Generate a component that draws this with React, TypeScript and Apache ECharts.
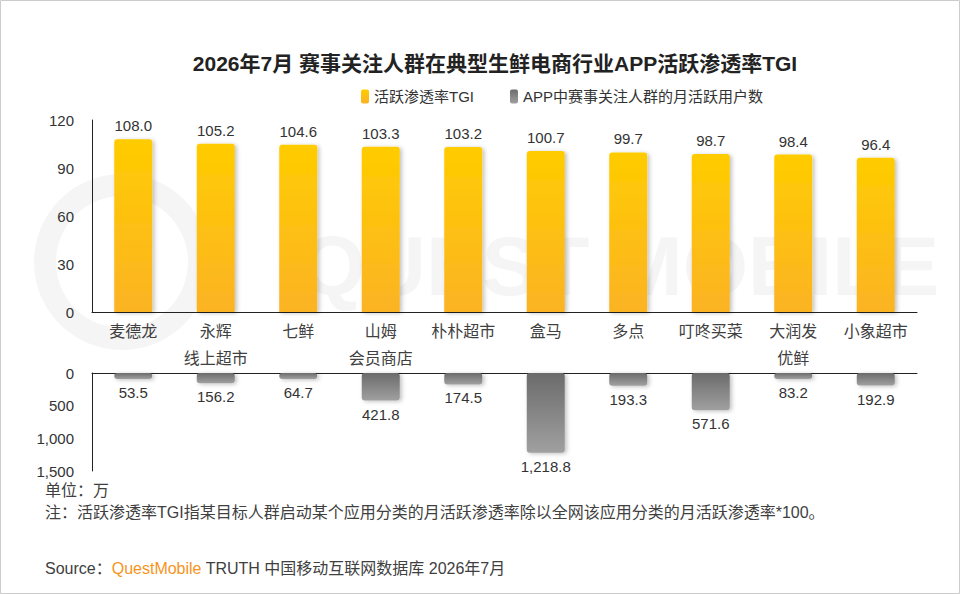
import React, { useEffect, useRef } from "react";
import * as echarts from "echarts";

const categories = [
  "麦德龙",
  "永辉\n线上超市",
  "七鲜",
  "山姆\n会员商店",
  "朴朴超市",
  "盒马",
  "多点",
  "叮咚买菜",
  "大润发\n优鲜",
  "小象超市",
];
const tgiValues = [108.0, 105.2, 104.6, 103.3, 103.2, 100.7, 99.7, 98.7, 98.4, 96.4];
const mauValues = [53.5, 156.2, 64.7, 421.8, 174.5, 1218.8, 193.3, 571.6, 83.2, 192.9];
const tgiTicks = { min: 0, max: 120, interval: 30 };
const mauTicks = { min: 0, max: 1500, interval: 500 };

const titleText = "2026年7月 赛事关注人群在典型生鲜电商行业APP活跃渗透率TGI";
const seriesNames = ["活跃渗透率TGI", "APP中赛事关注人群的月活跃用户数"];
const unitText = "单位：万";
const noteText = "注：活跃渗透率TGI指某目标人群启动某个应用分类的月活跃渗透率除以全网该应用分类的月活跃渗透率*100。";

const FONT = "'Liberation Sans', 'Noto Sans CJK SC', sans-serif";

const fmtComma = (v: number, digits: number) =>
  v.toLocaleString("en-US", { minimumFractionDigits: digits, maximumFractionDigits: digits });

export default function App() {
  const ref = useRef<HTMLDivElement>(null);
  useEffect(() => {
    if (!ref.current) return;
    const chart = echarts.init(ref.current, undefined, { renderer: "svg" });
    const yellow = new echarts.graphic.LinearGradient(0, 0, 0, 1, [
      { offset: 0, color: "#FFCC00" },
      { offset: 1, color: "#FBB324" },
    ]);
    const gray = new echarts.graphic.LinearGradient(0, 0, 0, 1, [
      { offset: 0, color: "#6B6B6B" },
      { offset: 1, color: "#A0A0A0" },
    ]);
    const axisLine = { show: true, lineStyle: { color: "#222", width: 1 } };
    chart.setOption({
      animation: false,
      backgroundColor: "#fff",
      textStyle: { fontFamily: FONT },
      title: {
        text: titleText,
        left: 490,
        top: 48,
        textAlign: "center",
        textStyle: { fontSize: 21, fontWeight: "bold", color: "#222", fontFamily: FONT },
      },
      legend: {
        left: 356,
        top: 84,
        itemWidth: 8,
        itemHeight: 14,
        itemGap: 36,
        icon: "roundRect",
        textStyle: { fontSize: 15, color: "#333", fontFamily: FONT },
        data: seriesNames,
      },
      grid: [
        { left: 92, right: 43, top: 120, height: 192 },
        { left: 92, right: 43, top: 373, height: 98 },
      ],
      xAxis: [
        {
          type: "category",
          gridIndex: 0,
          data: categories,
          axisLine,
          axisTick: { show: false },
          axisLabel: {
            fontSize: 16,
            color: "#404040",
            lineHeight: 27,
            margin: 6,
            interval: 0,
            fontFamily: FONT,
          },
        },
        {
          type: "category",
          gridIndex: 1,
          position: "top",
          data: categories,
          axisLine,
          axisTick: { show: false },
          axisLabel: { show: false },
        },
      ],
      yAxis: [
        {
          type: "value",
          gridIndex: 0,
          ...tgiTicks,
          axisLine,
          axisTick: { show: false },
          splitLine: { show: false },
          axisLabel: { fontSize: 15, color: "#333", margin: 18, fontFamily: FONT },
        },
        {
          type: "value",
          gridIndex: 1,
          inverse: true,
          ...mauTicks,
          axisLine,
          axisTick: { show: false },
          splitLine: { show: false },
          axisLabel: {
            fontSize: 15,
            color: "#333",
            margin: 18,
            fontFamily: FONT,
            formatter: (v: number) => fmtComma(v, 0),
          },
        },
      ],
      series: [
        {
          name: seriesNames[0],
          type: "bar",
          xAxisIndex: 0,
          yAxisIndex: 0,
          data: tgiValues,
          barWidth: 38,
          itemStyle: {
            color: yellow,
            borderRadius: [3, 3, 0, 0],
            shadowColor: "rgba(0,0,0,0.25)",
            shadowBlur: 4,
            shadowOffsetX: 2,
            shadowOffsetY: 1,
          },
          label: {
            show: true,
            position: "top",
            distance: 6,
            fontSize: 15,
            color: "#333",
            fontFamily: FONT,
            formatter: (p: any) => Number(p.value).toFixed(1),
          },
        },
        {
          name: seriesNames[1],
          type: "bar",
          xAxisIndex: 1,
          yAxisIndex: 1,
          data: mauValues,
          barWidth: 38,
          barMinHeight: 6,
          itemStyle: {
            color: gray,
            borderRadius: 3,
            shadowColor: "rgba(0,0,0,0.25)",
            shadowBlur: 4,
            shadowOffsetX: 2,
            shadowOffsetY: 1,
          },
          label: {
            show: true,
            position: "bottom",
            distance: 6,
            fontSize: 15,
            color: "#333",
            fontFamily: FONT,
            formatter: (p: any) => fmtComma(Number(p.value), 1),
          },
        },
      ],
      graphic: [
        {
          type: "group",
          silent: true,
          z: -10,
          children: [
            {
              type: "ring",
              shape: { cx: 122, cy: 262, r: 88, r0: 66 },
              style: { fill: "#F5F5F5" },
              z: -10,
            },
            {
              type: "text",
              x: 300,
              y: 266,
              style: {
                text: "QUEST MOBILE",
                fontSize: 84,
                fontWeight: "bold",
                fill: "#F5F5F5",
                fontFamily: "'Liberation Sans', sans-serif",
                verticalAlign: "middle",
              },
              z: -10,
            },
          ],
        },
        {
          type: "rect",
          silent: true,
          shape: { x: 0.5, y: 0.5, width: 959, height: 593 },
          style: { fill: "none", stroke: "#CCCCCC", lineWidth: 1 },
        },
        {
          type: "text",
          x: 45,
          y: 490,
          style: { text: unitText, fontSize: 16, fill: "#404040", fontFamily: FONT, verticalAlign: "middle" },
        },
        {
          type: "text",
          x: 45,
          y: 512,
          style: { text: noteText, fontSize: 16, fill: "#404040", fontFamily: FONT, verticalAlign: "middle" },
        },
        {
          type: "text",
          x: 45,
          y: 568,
          style: {
            text: "{a|Source：}{b|QuestMobile}{a| TRUTH 中国移动互联网数据库 2026年7月}",
            fontFamily: FONT,
            verticalAlign: "middle",
            rich: {
              a: { fontSize: 16, fill: "#404040", fontFamily: FONT },
              b: { fontSize: 16, fill: "#F7941D", fontFamily: FONT },
            },
          },
        },
      ],
    });
    return () => chart.dispose();
  }, []);
  return (
    <div
      ref={ref}
      style={{ position: "absolute", left: 0, top: 0, width: 960, height: 594, background: "#fff" }}
    />
  );
}
